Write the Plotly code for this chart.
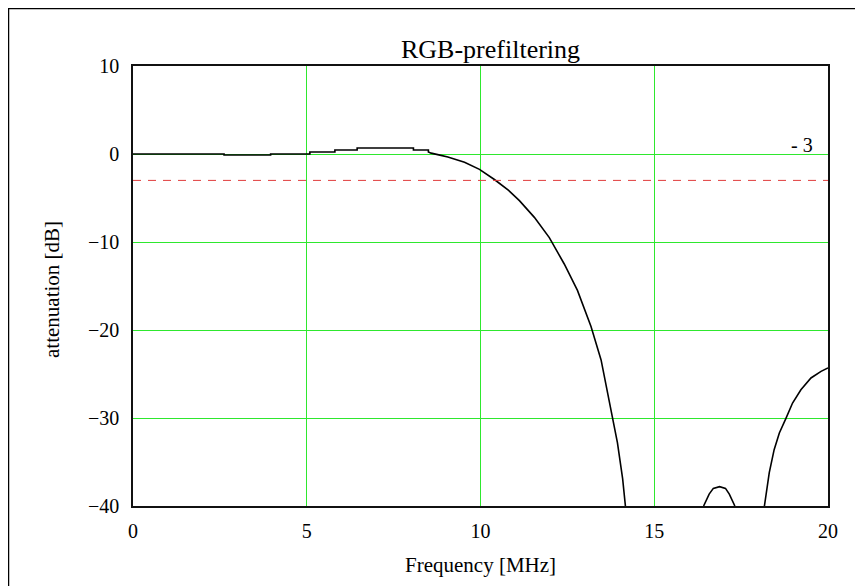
import plotly.graph_objects as go

# ---- data ----
freq = [0, 2.62, 2.62, 3.96, 3.96, 5.09, 5.09, 5.81, 5.81, 6.45, 6.45, 8.07, 8.07, 8.5, 8.5, 8.58,
        8.8, 9.06, 9.54, 9.97, 10.4, 10.8, 11.12, 11.55, 11.98, 12.41, 12.79, 13.18, 13.47, 13.66,
        13.80, 13.94, 14.09, 14.17,
        None,
        16.42, 16.58, 16.7, 16.88, 17.05, 17.16, 17.32,
        None,
        18.17, 18.31, 18.45, 18.60, 18.79, 18.98, 19.22, 19.51, 19.80, 20.0]
atten = [0, 0, -0.11, -0.11, 0, 0, 0.23, 0.23, 0.45, 0.45, 0.68, 0.68, 0.45, 0.45, 0.23, 0.1,
         -0.1, -0.35, -0.95, -1.75, -2.9, -4.1, -5.3, -7.2, -9.5, -12.5, -15.5, -19.6, -23.4, -27.1,
         -29.8, -32.8, -36.9, -40,
         None,
         -40, -38.65, -38.0, -37.8, -38.0, -38.65, -40,
         None,
         -40, -36.2, -33.6, -31.7, -30.05, -28.3, -26.8, -25.45, -24.7, -24.3]

ref_level = -3
x_ticks = [0, 5, 10, 15, 20]
y_ticks = [10, 0, -10, -20, -30, -40]

# page body has an 8px margin: figure pixel = screen pixel - 8
OFF = 8
W, H = 855, 578
L, R, T, B = 125, 35, 58, 80
pw, ph = W - L - R, H - T - B


def px(x):
    return (x - OFF - L) / pw


def py(y):
    return (H - B - (y - OFF)) / ph


FONT = "Liberation Serif"
GRID = "#2ee82e"

fig = go.Figure()
fig.add_trace(go.Scatter(x=freq, y=atten, mode="lines",
                         line=dict(color="black", width=1.6),
                         connectgaps=False, showlegend=False, hoverinfo="skip"))
fig.add_trace(go.Scatter(x=[0, 20], y=[ref_level, ref_level], mode="lines",
                         line=dict(color="#e03c3c", width=1, dash="8px,7px"),
                         showlegend=False, hoverinfo="skip"))

fig.update_layout(
    width=W, height=H,
    margin=dict(l=L, r=R, t=T, b=B),
    paper_bgcolor="white", plot_bgcolor="white",
    font=dict(family=FONT, color="black", size=20),
    xaxis=dict(range=[0, 20], tickvals=x_ticks, showgrid=True, gridcolor=GRID, gridwidth=1,
               zeroline=False, showline=True, linecolor="#111", linewidth=1.5, mirror=True,
               ticks="", ticklabelstandoff=6, tickfont=dict(size=20, family=FONT)),
    yaxis=dict(range=[-40, 10], tickvals=y_ticks, showgrid=True, gridcolor=GRID, gridwidth=1,
               zeroline=False, showline=True, linecolor="#111", linewidth=1.5, mirror=True,
               ticks="", ticklabelstandoff=8, tickfont=dict(size=20, family=FONT)),
    annotations=[
        dict(text="RGB-prefiltering", x=px(490), y=py(50), xref="paper", yref="paper",
             showarrow=False, font=dict(size=26, family=FONT), xanchor="center", yanchor="middle"),
        dict(text="Frequency [MHz]", x=px(480), y=py(565), xref="paper", yref="paper",
             showarrow=False, font=dict(size=21, family=FONT), xanchor="center", yanchor="middle"),
        dict(text="attenuation [dB]", x=px(52), y=py(290), xref="paper", yref="paper",
             showarrow=False, textangle=-90, font=dict(size=21, family=FONT),
             xanchor="center", yanchor="middle"),
        dict(text="- 3", x=px(815), y=py(145), xref="paper", yref="paper",
             showarrow=False, font=dict(size=20, family=FONT), xanchor="right", yanchor="middle"),
    ],
    shapes=[
        dict(type="line", xref="paper", yref="paper", x0=px(8), x1=px(W + OFF + 2), y0=py(8), y1=py(8),
             line=dict(color="black", width=2.5)),
        dict(type="line", xref="paper", yref="paper", x0=px(8), x1=px(8), y0=py(8), y1=py(H + OFF + 2),
             line=dict(color="black", width=2.5)),
    ],
)

fig.write_html("out.html")
